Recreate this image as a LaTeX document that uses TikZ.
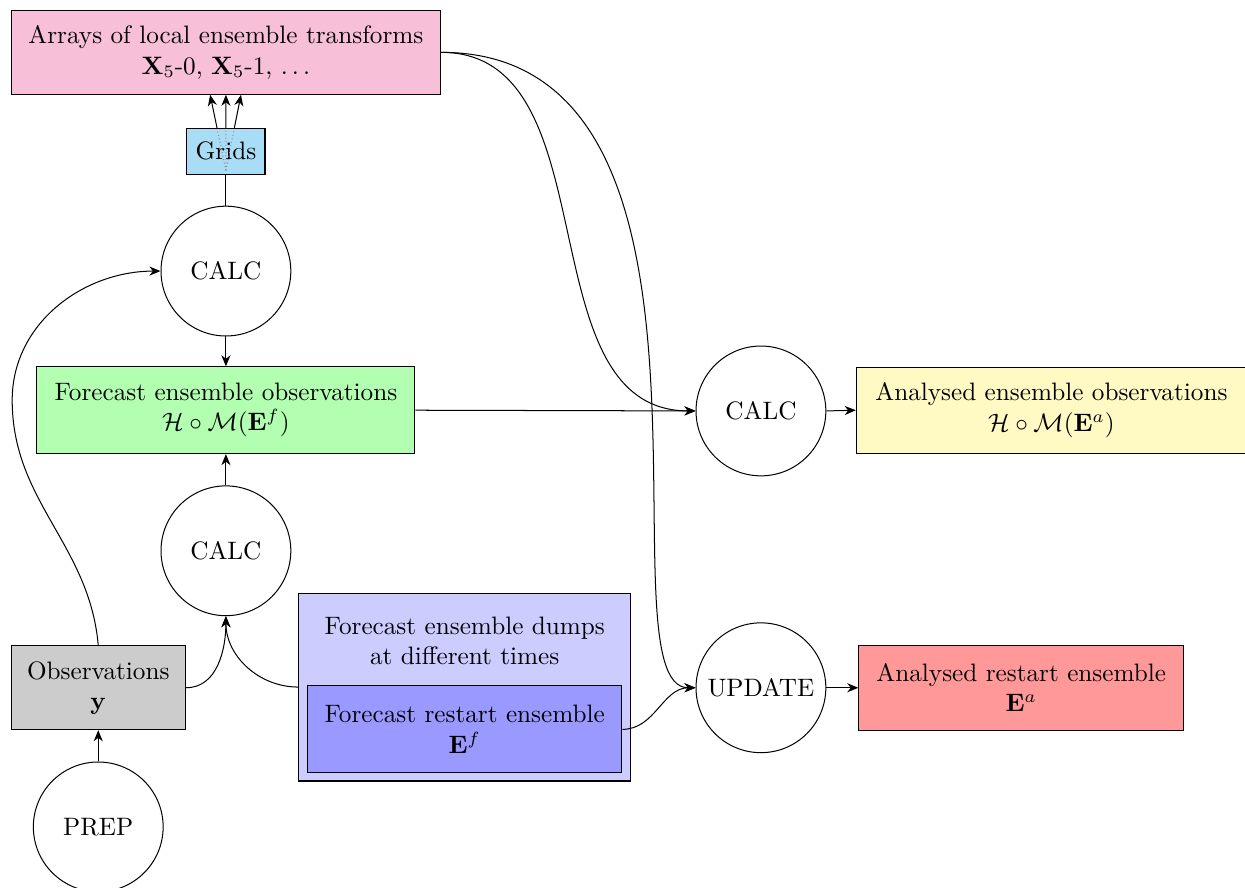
\documentclass[tikz,border=0pt]{standalone}
\usepackage{amsmath}
\usepackage{amssymb}
\usepackage{tikz}
\usetikzlibrary{calc,positioning,arrows,arrows.meta}

\definecolor{arrpink}{RGB}{247,191,216}
\definecolor{gridblue}{RGB}{169,221,246}
\definecolor{anyellow}{RGB}{255,249,196}

\begin{document}
\begin{tikzpicture}[>={Stealth[length=4.4pt,width=3.6pt,inset=1.4pt]}, box/.style={draw,align=center,inner sep=6pt}, proc/.style={draw,circle,minimum size=1.81cm}]
              \useasboundingbox (0,0) rectangle (17.36,12.38);
              % left column
              \node[box,fill=arrpink,minimum width=5.99cm,minimum height=1.17cm] (arrays) at (3.15,11.65) {Arrays of local ensemble transforms\\ $\mathbf{X}_5$-0, $\mathbf{X}_5$-1, $\ldots$};
              \node[draw,fill=gridblue,minimum width=1.09cm,minimum height=0.64cm] (grids) at (3.15,10.27) {Grids};
              \node[proc] (calcA) at (3.15,8.60) {CALC};
              \node[box,fill=green!30,minimum width=5.27cm,minimum height=1.21cm] (fcobs) at (3.15,6.66) {Forecast ensemble observations\\ $\mathcal{H}\circ\mathcal{M}(\mathbf{E}^f)$};
              \node[proc] (calcB) at (3.15,4.70) {CALC};
              \node[box,fill=gray!40,minimum width=2.43cm,minimum height=1.17cm] (obs) at (1.37,2.79) {Observations\\ $\mathbf{y}$};
              \node[proc] (prep) at (1.37,0.85) {PREP};

              % forecast dumps
              \node[draw,fill=blue!20,minimum width=4.63cm,minimum height=2.62cm] (dumps) at (6.48,2.80) {};
              \node[align=center] (dumpstext) at (6.48,3.44) {Forecast ensemble dumps\\ at different times};
              \node[box,fill=blue!40,minimum width=4.38cm,minimum height=1.21cm] (restart) at (6.48,2.21) {Forecast restart ensemble\\ $\mathbf{E}^f$};

              % right side
              \node[proc] (calcC) at (10.61,6.65) {CALC};
              \node[box,fill=anyellow,minimum width=5.44cm,minimum height=1.20cm] (anobs) at (14.66,6.66) {Analysed ensemble observations\\ $\mathcal{H}\circ\mathcal{M}(\mathbf{E}^a)$};
              \node[proc] (update) at (10.61,2.79) {UPDATE};
              \node[box,fill=red!40,minimum width=4.53cm,minimum height=1.18cm] (anrest) at (14.24,2.79) {Analysed restart ensemble\\ $\mathbf{E}^a$};

              % grids to arrays
              \coordinate (gbase) at ($(grids.south)+(0,0.06)$);
              \coordinate (t1) at ($(arrays.south)+(-0.22,0)$);
              \coordinate (t2) at (arrays.south);
              \coordinate (t3) at ($(arrays.south)+(0.21,0)$);
              \draw[black!45,densely dotted] (gbase) -- ($(gbase)!0.55!(t1)$);
              \draw[black!45,densely dotted] (gbase) -- ($(gbase)!0.55!(t2)$);
              \draw[black!45,densely dotted] (gbase) -- ($(gbase)!0.55!(t3)$);
              \draw[->] ($(gbase)!0.55!(t1)$) -- (t1);
              \draw[->] ($(gbase)!0.55!(t2)$) -- (t2);
              \draw[->] ($(gbase)!0.55!(t3)$) -- (t3);

              \coordinate (obsloop) at (0.17,6.80);
              \draw (grids.south) -- (calcA.north);
              \draw[->] (calcA.south) -- (fcobs.north);
              \draw[->] (calcB.north) -- (fcobs.south);
              \draw[->] (prep.north) -- (obs.south);
              \draw[->] (obs.north) to[out=95,in=-90] (obsloop) to[out=90,in=180] (calcA.west);
              \draw[->] (obs.east) to[out=0,in=-90] (calcB.south);
              \draw[->] (dumps.west) to[out=180,in=-90] (calcB.south);
              \draw[->] (restart.east) to[out=0,in=180] (update.west);
              \draw[->] (arrays.east) to[out=0,in=180] (calcC.west);
              \draw[->] (arrays.east) to[out=0,in=180,out distance=4.46cm,in distance=1.39cm] (update.west);
              \draw[->] (fcobs.east) -- (calcC.west);
              \draw[->] (calcC.east) -- (anobs.west);
              \draw[->] (update.east) -- (anrest.west);
            \end{tikzpicture}
\end{document}
